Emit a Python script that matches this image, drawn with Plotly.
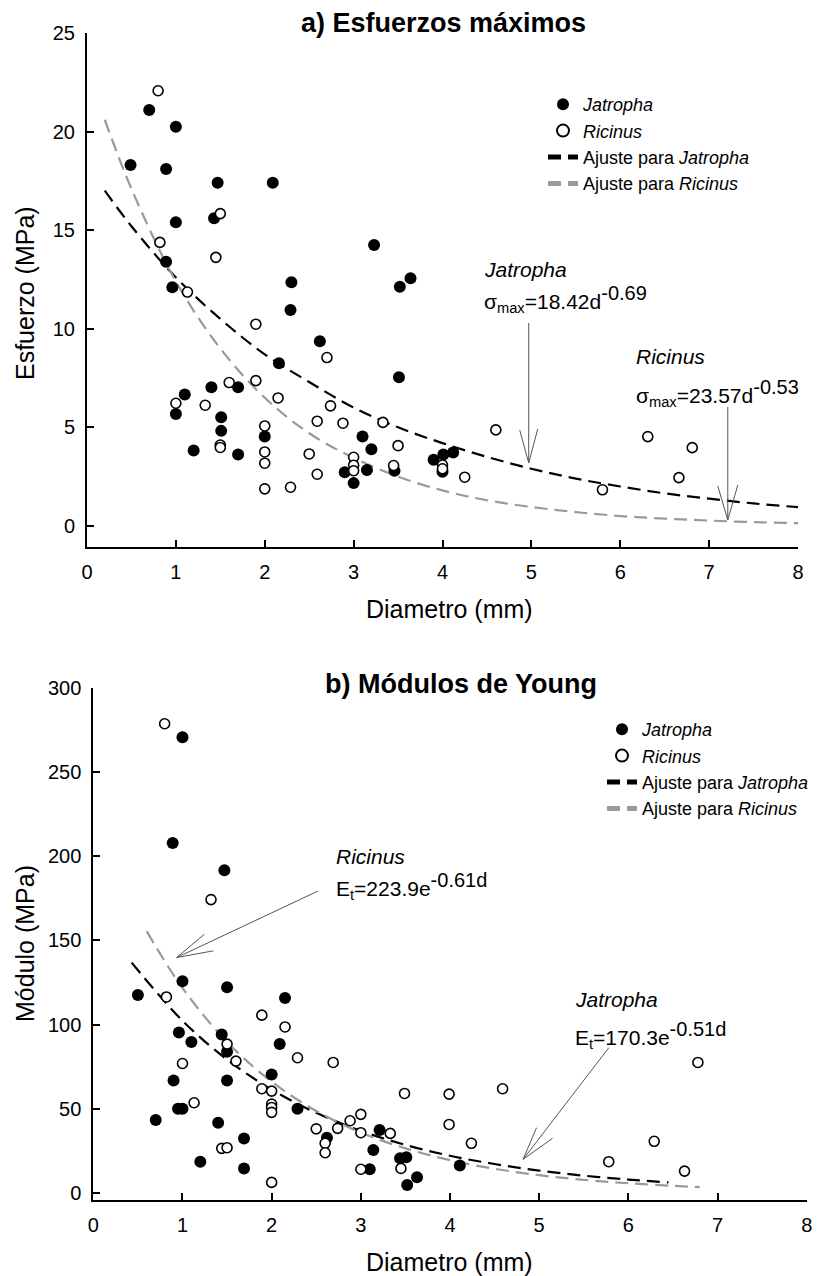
import plotly.graph_objects as go

# ---------------- Data: panel a) Esfuerzos máximos ----------------
jat_a_d = [0.70, 1.00, 0.49, 0.89, 1.47, 2.09, 1.00, 1.43, 3.23, 0.89, 0.96, 2.30, 3.52, 3.64,
           2.29, 2.62, 2.16, 3.51, 1.10, 1.40, 1.70, 1.00, 1.51, 1.51, 1.20, 1.70, 2.00, 3.10,
           3.20, 2.90, 3.15, 3.00, 3.90, 4.01, 4.12, 4.00, 3.46]
jat_a_s = [21.1, 20.25, 18.3, 18.1, 17.4, 17.4, 15.4, 15.6, 14.25, 13.4, 12.1, 12.36, 12.13, 12.56,
           10.95, 9.36, 8.25, 7.54, 6.66, 7.03, 7.03, 5.68, 5.51, 4.82, 3.82, 3.62, 4.53, 4.53,
           3.89, 2.72, 2.84, 2.17, 3.35, 3.62, 3.72, 2.75, 2.8]
ric_a_d = [0.80, 1.50, 0.82, 1.45, 1.13, 1.90, 2.70, 1.90, 1.60, 2.15, 1.00, 1.33, 2.74, 2.59,
           2.88, 3.33, 2.00, 1.50, 1.50, 3.50, 2.00, 2.00, 2.50, 2.59, 3.00, 3.00, 3.00, 3.45,
           4.00, 4.00, 4.25, 2.00, 2.29, 4.60, 5.80, 6.31, 6.81, 6.66]
ric_a_s = [22.07, 15.84, 14.38, 13.62, 11.86, 10.23, 8.54, 7.37, 7.27, 6.49, 6.22, 6.12, 6.09, 5.31,
           5.21, 5.25, 5.07, 4.1, 3.98, 4.07, 3.75, 3.18, 3.65, 2.62, 3.48, 3.08, 2.8, 3.06,
           3.09, 2.9, 2.47, 1.88, 1.96, 4.87, 1.83, 4.53, 3.97, 2.45]
# fitted curves
fit_a_d = [0.2, 0.5, 1.0, 1.5, 2.0, 2.5, 3.0, 3.5, 4.0, 4.5, 5.0, 5.5, 6.0, 6.5, 7.0, 7.5, 8.0]
fit_a_jat = [17.0, 15.2, 12.6, 10.5, 8.7, 7.3, 6.0, 5.0, 4.2, 3.5, 2.9, 2.4, 2.0, 1.65, 1.38, 1.14, 0.95]
fit_a_ric = [20.6, 17.1, 12.4, 9.0, 6.5, 4.7, 3.45, 2.5, 1.8, 1.3, 0.96, 0.70, 0.50, 0.37, 0.27, 0.19, 0.14]

# ---------------- Data: panel b) Módulos de Young ----------------
jat_b_d = [1.00, 0.89, 1.47, 0.50, 1.00, 1.50, 2.15, 0.96, 1.10, 1.44, 1.50, 2.09, 0.90, 1.50,
           2.00, 0.95, 1.00, 2.29, 0.70, 1.40, 1.69, 1.20, 1.69, 2.62, 3.21, 3.14, 3.10, 3.44,
           3.51, 3.52, 3.63, 4.11]
jat_b_e = [270.6, 207.8, 191.6, 117.6, 125.7, 122.2, 115.8, 95.3, 89.7, 94.1, 83.8, 88.4, 66.8, 66.8,
           70.4, 50.0, 50.0, 50.0, 43.3, 41.7, 32.4, 18.6, 14.6, 32.8, 37.4, 25.5, 14.1, 20.6,
           21.2, 4.7, 9.3, 16.4]
ric_b_d = [0.80, 1.32, 0.82, 1.89, 2.15, 1.50, 1.00, 1.60, 2.29, 2.69, 1.89, 2.00, 1.13, 2.00,
           2.00, 2.00, 1.44, 1.50, 2.50, 2.60, 2.60, 2.74, 2.88, 3.00, 3.00, 3.00, 3.33, 3.49,
           3.45, 3.99, 3.99, 4.24, 2.00, 4.59, 6.78, 6.29, 5.78, 6.63]
ric_b_e = [278.6, 174.2, 116.4, 105.6, 98.6, 88.4, 76.9, 78.3, 80.3, 77.5, 61.9, 60.5, 53.6, 52.8,
           50.8, 47.9, 26.5, 26.9, 38.1, 29.5, 23.9, 38.4, 42.9, 46.7, 35.8, 14.1, 35.4, 59.1,
           14.6, 58.7, 40.7, 29.5, 6.3, 61.9, 77.5, 30.7, 18.6, 13.0]
fit_b_jat_d = [0.43, 1.0, 1.5, 2.0, 2.5, 3.0, 3.5, 4.0, 4.5, 5.0, 5.5, 6.0, 6.45]
fit_b_jat = [136.8, 102.3, 79.2, 61.4, 47.6, 36.9, 28.6, 22.1, 17.2, 13.3, 10.3, 8.0, 6.3]
fit_b_ric_d = [0.6, 1.0, 1.5, 2.0, 2.5, 3.0, 3.5, 4.0, 4.5, 5.0, 5.5, 6.0, 6.5, 6.8]
fit_b_ric = [155.3, 121.7, 89.7, 66.1, 48.7, 35.9, 26.5, 19.5, 14.4, 10.6, 7.8, 5.8, 4.25, 3.54]

FONT = "Liberation Sans, Arial, sans-serif"
GRAY = "#9a9a9a"
ARROW = "#555555"

fig = go.Figure()

def add_panel(xa, ya, leg, jd, jv, rd, rv, fjd, fj, frd, fr):
    fig.add_trace(go.Scatter(x=fjd, y=fj, mode="lines", name="Ajuste para <i>Jatropha</i>",
                             line=dict(color="black", width=2.2, dash="13px,7px"),
                             line_shape="spline", xaxis=xa, yaxis=ya, legend=leg, legendrank=3))
    fig.add_trace(go.Scatter(x=frd, y=fr, mode="lines", name="Ajuste para <i>Ricinus</i>",
                             line=dict(color=GRAY, width=2.2, dash="13px,7px"),
                             line_shape="spline", xaxis=xa, yaxis=ya, legend=leg, legendrank=4))
    fig.add_trace(go.Scatter(x=jd, y=jv, mode="markers", name="<i>Jatropha</i>",
                             marker=dict(color="black", size=12, line=dict(width=0)),
                             xaxis=xa, yaxis=ya, legend=leg, legendrank=1))
    fig.add_trace(go.Scatter(x=rd, y=rv, mode="markers", name="<i>Ricinus</i>",
                             marker=dict(color="white", size=10, line=dict(color="black", width=1.6)),
                             xaxis=xa, yaxis=ya, legend=leg, legendrank=2))

add_panel("x", "y", "legend", jat_a_d, jat_a_s, ric_a_d, ric_a_s, fit_a_d, fit_a_jat, fit_a_d, fit_a_ric)
add_panel("x2", "y2", "legend2", jat_b_d, jat_b_e, ric_b_d, ric_b_e, fit_b_jat_d, fit_b_jat, fit_b_ric_d, fit_b_ric)

# the page body has an 8px margin: work in page pixels, shift by OFF
OFF = 8
W, H = 830 - OFF, 1276 - OFF
ML, MR, MT, MB = 52, 4, 8, 4
PW, PH = W - ML - MR, H - MT - MB
def px(xp):
    return (xp - OFF - ML) / PW
def py(yp):
    return 1 - (yp - OFF - MT) / PH

axis_common = dict(showline=True, linecolor="black", linewidth=2, ticks="inside", ticklen=7,
                   tickwidth=1.5, tickcolor="black", showgrid=False, zeroline=False,
                   tickfont=dict(family=FONT, size=20, color="black"), ticklabelstandoff=6,
                   automargin=False)

fig.update_layout(
    width=W, height=H, margin=dict(l=ML, r=MR, t=MT, b=MB, autoexpand=False),
    paper_bgcolor="white", plot_bgcolor="white",
    font=dict(family=FONT, color="black"),
    xaxis=dict(domain=[px(87), px(798)], range=[0, 8], dtick=1, anchor="y", **axis_common),
    yaxis=dict(domain=[py(547), py(33)], range=[-1.07, 25], dtick=5, anchor="x", **axis_common),
    xaxis2=dict(domain=[px(93.3), px(806.7)], range=[0, 8], dtick=1, anchor="y2", **axis_common),
    yaxis2=dict(domain=[py(1200), py(687.7)], range=[-4.15, 300], dtick=50, anchor="x2", **axis_common),
    legend=dict(x=px(543), y=py(86), xanchor="left", yanchor="top", bgcolor="rgba(0,0,0,0)",
                font=dict(family=FONT, size=18), tracegroupgap=0, itemsizing="constant"),
    legend2=dict(x=px(602), y=py(711), xanchor="left", yanchor="top", bgcolor="rgba(0,0,0,0)",
                 font=dict(family=FONT, size=18), tracegroupgap=0, itemsizing="constant"),
    showlegend=True,
)

ann = []
def paper_text(text, xp, yp, size, bold=False, angle=0):
    ann.append(dict(text=f"<b>{text}</b>" if bold else text, x=px(xp), y=py(yp), xref="paper", yref="paper",
                    showarrow=False, xanchor="center", yanchor="middle", textangle=angle,
                    font=dict(family=FONT, size=size, color="black")))

paper_text("a) Esfuerzos máximos", 443, 23, 27, bold=True)
paper_text("b) Módulos de Young", 461, 684, 27, bold=True)
paper_text("Esfuerzo (MPa)", 25, 293, 25, angle=-90)
paper_text("Módulo (MPa)", 25, 944, 25, angle=-90)
paper_text("Diametro (mm)", 449, 609, 25)
paper_text("Diametro (mm)", 449, 1262, 25)

SUP = '<sup><span style="font-size:20px">{}</span></sup>'
def data_text(text, x, y, xr, yr, size=21):
    ann.append(dict(text=text, x=x, y=y, xref=xr, yref=yr, showarrow=False, xanchor="left",
                    yanchor="middle", font=dict(family=FONT, size=size, color="black")))

data_text("<i>Jatropha</i>", 4.44, 12.98, "x", "y")
data_text("σ<sub>max</sub>=18.42d" + SUP.format("-0.69"), 4.44, 11.5, "x", "y")
data_text("<i>Ricinus</i>", 6.16, 8.57, "x", "y")
data_text("σ<sub>max</sub>=23.57d" + SUP.format("-0.53"), 6.16, 6.75, "x", "y")
data_text("<i>Ricinus</i>", 2.70, 199.5, "x2", "y2")
data_text("E<sub>t</sub>=223.9e" + SUP.format("-0.61d"), 2.70, 182, "x2", "y2")
data_text("<i>Jatropha</i>", 5.38, 115, "x2", "y2")
data_text("E<sub>t</sub>=170.3e" + SUP.format("-0.51d"), 5.38, 94, "x2", "y2")

shapes = []
def arrow(xr, yr, tx, ty, main, arm1, arm2):
    for (dx, dy) in (main, arm1, arm2):
        shapes.append(dict(type="line", xref=xr, yref=yr, xsizemode="pixel", ysizemode="pixel",
                           xanchor=tx, yanchor=ty, x0=0, y0=0, x1=dx, y1=dy,
                           line=dict(color=ARROW, width=1)))

arrow("x", "y", 4.97, 3.19, (0, 140), (-9, 33), (9, 34))
arrow("x", "y", 7.21, 0.30, (0, 113), (-10, 34), (10, 35))
arrow("x2", "y2", 0.935, 139.8, (141.6, 66.6), (27.7, 23.3), (36.7, 6.7))
arrow("x2", "y2", 4.82, 20.0, (85.7, 111.6), (13.4, 31.6), (29.4, 21))

fig.update_layout(annotations=ann, shapes=shapes)
fig.write_html("out.html")
